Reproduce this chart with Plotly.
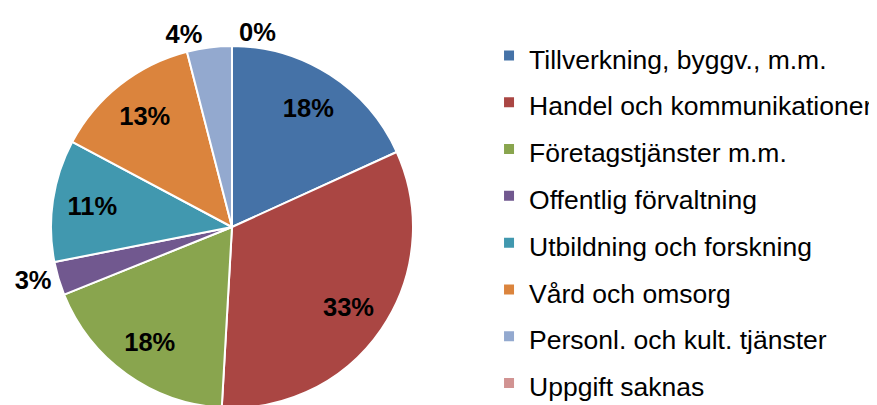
import plotly.graph_objects as go

categories = [
    "Tillverkning, byggv., m.m.",
    "Handel och kommunikationer",
    "Företagstjänster m.m.",
    "Offentlig förvaltning",
    "Utbildning och forskning",
    "Vård och omsorg",
    "Personl. och kult. tjänster",
    "Uppgift saknas",
]
shares = [18.2, 32.7, 18.0, 3.0, 10.9, 13.2, 4.0, 0.0]
colors = ["#4572A7", "#AA4643", "#89A54E", "#71588F",
          "#4198AF", "#DB843D", "#93A9CF", "#D19392"]
text_pos = ["inside", "inside", "inside", "outside",
            "inside", "inside", "outside", "outside"]

# legend rows are spaced by the legend font size, the text itself is smaller
legend_labels = [f"<span style='font-size:26.5px'>{c}</span>" for c in categories]

# the page body adds an 8px margin, so positions are set 8px up/left
pie_domain = dict(x=[0.049, 0.4618], y=[0.0123, 0.9062])
label_font = dict(family="Liberation Sans, Arial", size=25.5, color="black", weight="bold")

fig = go.Figure()

# the coloured slices
fig.add_trace(go.Pie(
    labels=legend_labels,
    values=shares,
    sort=False,
    direction="clockwise",
    rotation=0,
    marker=dict(colors=colors, line=dict(color="white", width=2)),
    textinfo="none",
    domain=pie_domain,
    hoverinfo="label+percent",
))

# transparent ring on top, only used to put the percent labels further out
fig.add_trace(go.Pie(
    labels=legend_labels,
    values=shares,
    sort=False,
    direction="clockwise",
    rotation=0,
    hole=0.56,
    marker=dict(colors=["rgba(0,0,0,0)"] * len(shares), line=dict(width=0)),
    texttemplate="%{percent:.0%}",
    textposition=text_pos,
    insidetextorientation="horizontal",
    textfont=label_font,
    domain=pie_domain,
    showlegend=False,
    hoverinfo="skip",
))

fig.update_layout(
    width=877,
    height=405,
    margin=dict(l=0, r=0, t=0, b=0, autoexpand=False),
    paper_bgcolor="white",
    plot_bgcolor="white",
    font=dict(family="Liberation Sans, Arial", color="black"),
    legend=dict(
        x=0.5485, xanchor="left",
        y=0.953, yanchor="top",
        font=dict(size=33.7, color="black"),
        bgcolor="rgba(0,0,0,0)",
    ),
)

fig.write_html("out.html")
